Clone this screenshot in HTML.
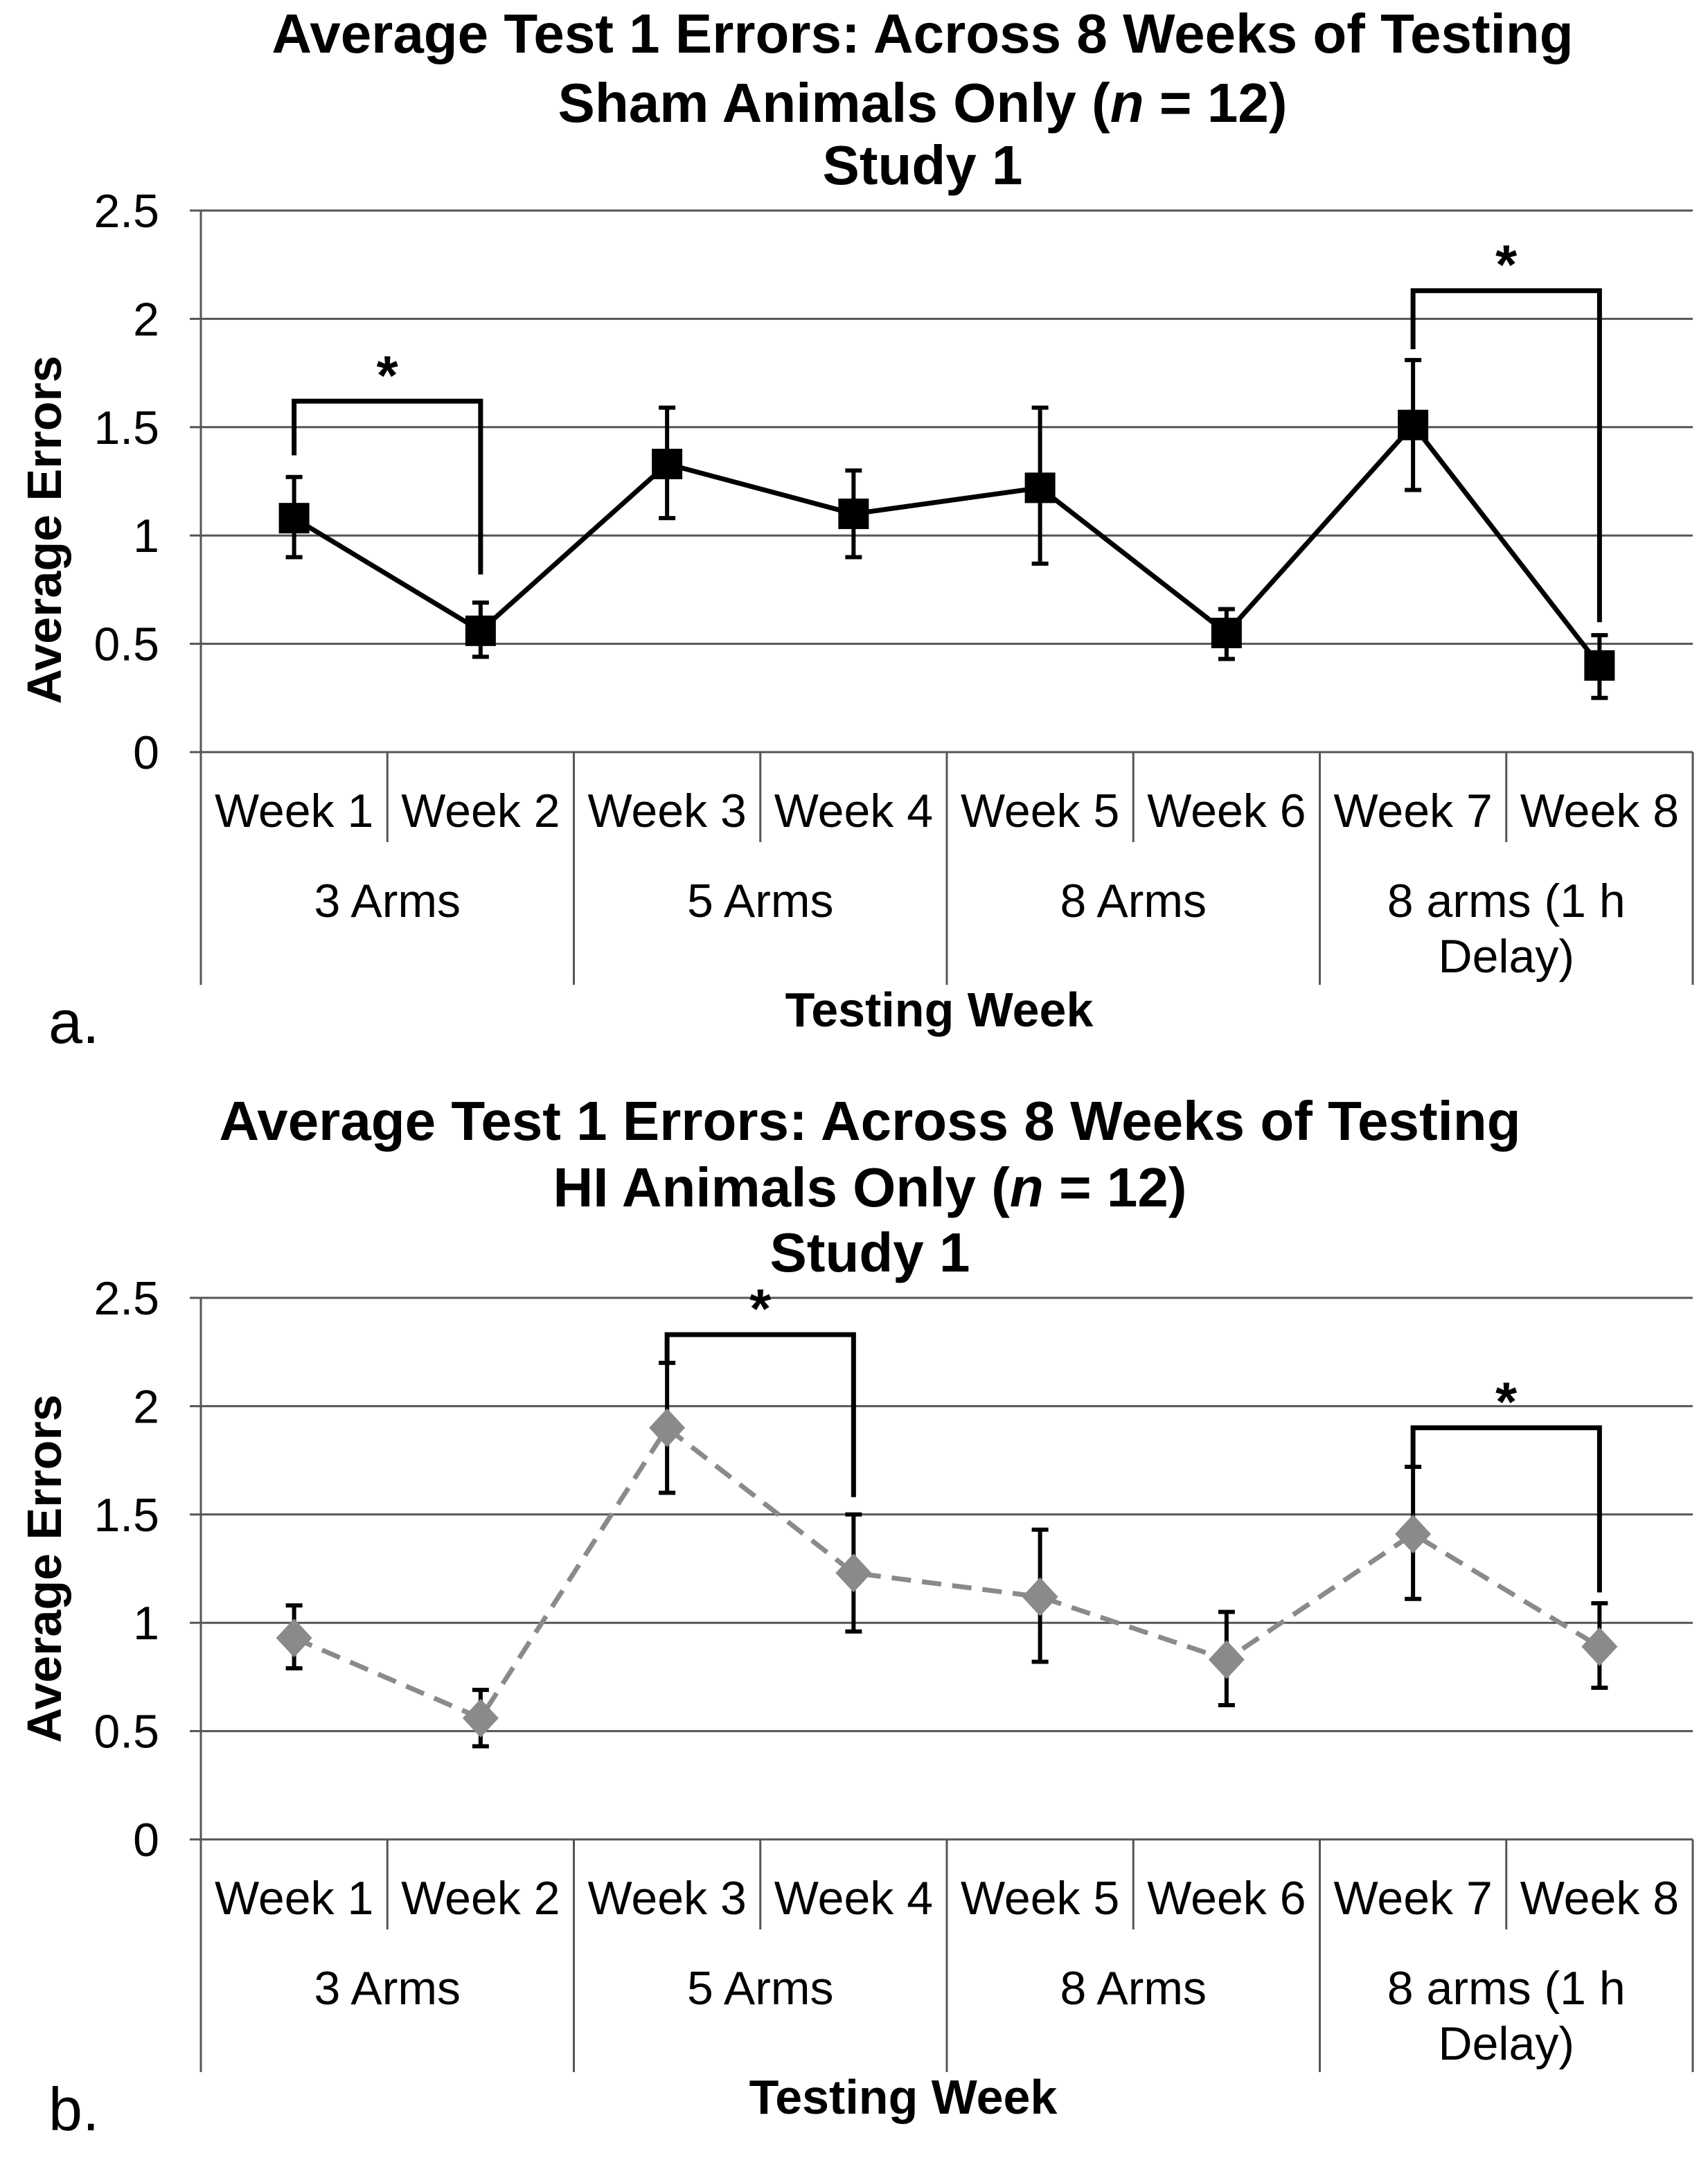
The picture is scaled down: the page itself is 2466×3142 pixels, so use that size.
<!DOCTYPE html>
<html><head><meta charset="utf-8"><style>
html,body{margin:0;padding:0;background:#fff;}
svg{display:block;font-family:"Liberation Sans",Arial,sans-serif;}
</style></head><body>
<svg id="fig" width="2466" height="3142" viewBox="0 0 1233 1571" xmlns="http://www.w3.org/2000/svg">
<rect width="1233" height="1571" fill="#fff"/>
</svg>
<script>
const weeks = ["Week 1","Week 2","Week 3","Week 4","Week 5","Week 6","Week 7","Week 8"];
const groups = ["3 Arms","5 Arms","8 Arms","8 arms (1 h|Delay)"];
const yTicks = [0,0.5,1,1.5,2,2.5];
const yTickLabels = ["0","0.5","1","1.5","2","2.5"];
const shamMeans = [1.08,0.56,1.33,1.10,1.22,0.55,1.51,0.40];
const shamLow = [0.90,0.44,1.08,0.90,0.87,0.43,1.21,0.25];
const shamHigh = [1.27,0.69,1.59,1.30,1.59,0.66,1.81,0.54];
const hiMeans = [0.93,0.56,1.90,1.23,1.12,0.83,1.41,0.89];
const hiLow = [0.79,0.43,1.60,0.96,0.82,0.62,1.11,0.70];
const hiHigh = [1.08,0.69,2.20,1.50,1.43,1.05,1.72,1.09];
// significance brackets: [leftIdx, rightIdx, top, leftBottom, rightBottom]
const shamSig = [[0,1,1.62,1.37,0.82],[6,7,2.13,1.86,0.60]];
const hiSig = [[2,3,2.33,2.20,1.58],[6,7,1.90,1.72,1.14]];

const svg = document.getElementById('fig');
const NS = "http://www.w3.org/2000/svg";
function mk(tag, attrs, parent){const e=document.createElementNS(NS,tag);for(const k in attrs)e.setAttribute(k,attrs[k]);(parent||svg).appendChild(e);return e;}
function txt(s,x,y,size,weight,anchor,parent){const t=mk('text',{x:x,y:y,'font-size':size,'font-weight':weight||'normal','text-anchor':anchor||'middle',fill:'#000'},parent);t.textContent=s;return t;}

function drawChart(cfg){
  const g = mk('g',{});
  
  
  const x0=145, x1=1222, y0=cfg.yZero, unit=156.4;
  const step=(x1-x0)/weeks.length;
  const X=i=>x0+step*(i+0.5);
  const Y=v=>y0-v*unit;
  cfg.titles.forEach((t,i)=>{
    const tt=txt('',cfg.titleX,cfg.titleY[i],40,'bold','middle',g);
    
    
    if(t.includes('(n')){
      const parts=t.split('(n');
      const a=mk('tspan',{},tt);a.textContent=parts[0]+'(';
      const b=mk('tspan',{'font-style':'italic'},tt);b.textContent='n';
      const c=mk('tspan',{},tt);c.textContent=parts[1];
    } else tt.textContent=t;
  });
  yTicks.forEach((v,i)=>{
    if(v>0){const l=mk('line',{x1:x0,x2:x1,y1:Y(v),y2:Y(v),stroke:'#555','stroke-width':1.5},g);
      }
    mk('line',{x1:x0-8,x2:x0,y1:Y(v),y2:Y(v),stroke:'#555','stroke-width':1.5},g);
    const t=txt(yTickLabels[i],x0-30,Y(v)+12,34,'normal','end',g);
    
  });
  mk('line',{x1:x0,x2:x0,y1:Y(2.5),y2:y0+168,stroke:'#555','stroke-width':1.5},g);
  mk('line',{x1:x0,x2:x1,y1:y0,y2:y0,stroke:'#555','stroke-width':1.5},g);
  for(let i=1;i<=weeks.length;i++){
    const xx=x0+step*i;
    const long=(i%2===0);
    mk('line',{x1:xx,x2:xx,y1:y0,y2:y0+(long?168:65),stroke:'#555','stroke-width':1.5},g);
  }
  weeks.forEach((w,i)=>{const t=txt(w,X(i),y0+54,34,'normal','middle',g);
    });
  groups.forEach((gr,i)=>{
    const cx=x0+step*(2*i+1);
    const lines=gr.split('|');
    lines.forEach((ln,j)=>{const t=txt(ln,cx,y0+119+j*40,34,'normal','middle',g);
      });
  });
  const xt=txt('Testing Week',cfg.xTitleX,y0+198,35,'bold','middle',g);
  
  const yt=txt('Average Errors',0,0,35,'bold','middle',g);
  yt.setAttribute('transform',`translate(44,${Y(1.25)+cfg.yTitleOff}) rotate(-90)`);
  
  const pl=txt(cfg.panel,35,y0+210,44,'normal','start',g);
  
  const pts=cfg.means.map((v,i)=>X(i)+','+Y(v)).join(' ');
  const pline=mk('polyline',{points:pts,fill:'none',stroke:cfg.lineColor,'stroke-width':3.5,'stroke-dasharray':cfg.dash||'none'},g);
  
  cfg.means.forEach((v,i)=>{
    const eb=mk('g',{stroke:'#000','stroke-width':3},g);
    
    mk('line',{x1:X(i),x2:X(i),y1:Y(cfg.low[i]),y2:Y(cfg.high[i])},eb);
    mk('line',{x1:X(i)-6,x2:X(i)+6,y1:Y(cfg.low[i]),y2:Y(cfg.low[i])},eb);
    mk('line',{x1:X(i)-6,x2:X(i)+6,y1:Y(cfg.high[i]),y2:Y(cfg.high[i])},eb);
  });
  cfg.means.forEach((v,i)=>{
    let m;
    if(cfg.marker==='square') m=mk('rect',{x:X(i)-11,y:Y(v)-11,width:22,height:22,fill:'#000'},g);
    else m=mk('polygon',{points:`${X(i)},${Y(v)-14} ${X(i)+13},${Y(v)} ${X(i)},${Y(v)+14} ${X(i)-13},${Y(v)}`,fill:'#8a8a8a'},g);
    
  });
  cfg.sig.forEach(s=>{
    const [a,b,top,lb,rb]=s;
    const br=mk('polyline',{points:`${X(a)},${Y(lb)} ${X(a)},${Y(top)} ${X(b)},${Y(top)} ${X(b)},${Y(rb)}`,fill:'none',stroke:'#000','stroke-width':3.5},g);
    
    const st=txt('*',(X(a)+X(b))/2,Y(top)-5,40,'bold','middle',g);
    
  });
}

drawChart({name:'chart-sham',yZero:543,titleX:666,titleY:[38,88,133],yTitleOff:35,
  titles:['Average Test 1 Errors: Across 8 Weeks of Testing','Sham Animals Only  (n = 12)','Study 1'],
  xTitleX:678,panel:'a.',means:shamMeans,low:shamLow,high:shamHigh,marker:'square',lineColor:'#000',sig:shamSig});
drawChart({name:'chart-hi',yZero:1328,titleX:628,titleY:[823,871,918],yTitleOff:0,
  titles:['Average Test 1 Errors: Across 8 Weeks of Testing','HI Animals Only  (n = 12)','Study 1'],
  xTitleX:652,panel:'b.',means:hiMeans,low:hiLow,high:hiHigh,marker:'diamond',lineColor:'#8a8a8a',dash:'14 8',sig:hiSig});
</script>
</body></html>
